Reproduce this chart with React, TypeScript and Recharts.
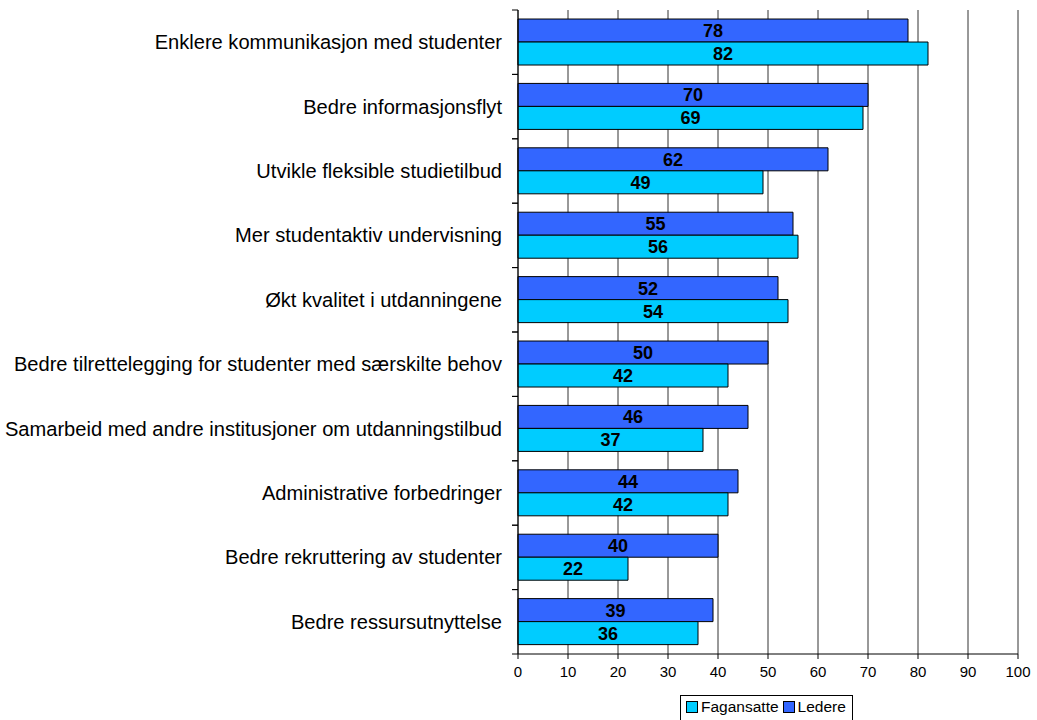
import React from "react";
import { BarChart, Bar, XAxis, YAxis, CartesianGrid, LabelList } from "recharts";

const categories = [
  "Enklere kommunikasjon med studenter",
  "Bedre informasjonsflyt",
  "Utvikle fleksible studietilbud",
  "Mer studentaktiv undervisning",
  "Økt kvalitet i utdanningene",
  "Bedre tilrettelegging for studenter med særskilte behov",
  "Samarbeid med andre institusjoner om utdanningstilbud",
  "Administrative forbedringer",
  "Bedre rekruttering av studenter",
  "Bedre ressursutnyttelse",
];
const ledere = [78, 70, 62, 55, 52, 50, 46, 44, 40, 39];
const fagansatte = [82, 69, 49, 56, 54, 42, 37, 42, 22, 36];
const xTicks = [0, 10, 20, 30, 40, 50, 60, 70, 80, 90, 100];

const data = categories.map((name, i) => ({ name, ledere: ledere[i], fagansatte: fagansatte[i] }));

const W = 1037;
const H = 720;
const MARGIN = { top: 10, right: 19, bottom: 36, left: 0 };
const X_AXIS_H = 30;
const BAND = (H - MARGIN.top - MARGIN.bottom - X_AXIS_H) / categories.length;

const FONT = "'Liberation Sans', Arial, sans-serif";

function CategoryTick(props: any) {
  const { x, y, payload } = props;
  const axisX = x + 16;
  return (
    <g>
      <line x1={axisX - 6} x2={axisX} y1={y - BAND / 2} y2={y - BAND / 2} stroke="#000" />
      <line x1={axisX - 6} x2={axisX} y1={y + BAND / 2} y2={y + BAND / 2} stroke="#000" />
      <text x={x} y={y} textAnchor="end" dominantBaseline="central" fontSize={20.1} fill="#000" fontFamily={FONT}>
        {payload.value}
      </text>
    </g>
  );
}

function LegendBox() {
  const item = (color: string, label: string) => (
    <span style={{ display: "inline-flex", alignItems: "center", marginRight: 4 }}>
      <span style={{ display: "inline-block", width: 10, height: 10, background: color, border: "1px solid #000", marginRight: 3 }} />
      {label}
    </span>
  );
  return (
    <div
      style={{
        position: "absolute", left: 680, top: 695, width: 173, height: 30,
        border: "1px solid #000", fontFamily: FONT, fontSize: 15.5, color: "#000",
        display: "flex", alignItems: "flex-start", paddingTop: 2, paddingLeft: 5, boxSizing: "border-box",
        background: "#fff",
      }}
    >
      {item("#00CCFF", "Fagansatte")}
      {item("#3366FF", "Ledere")}
    </div>
  );
}

export default function App() {
  return (
    <div style={{ position: "absolute", left: 0, top: 0, width: W, height: H, background: "#fff", overflow: "hidden" }}>
      <BarChart
        width={W}
        height={H}
        data={data}
        layout="vertical"
        margin={MARGIN}
        barCategoryGap="14%"
        barGap={0}
      >
        <CartesianGrid horizontal={false} stroke="#333" />
        <XAxis
          type="number"
          domain={[0, 100]}
          ticks={xTicks}
          interval={0}
          height={X_AXIS_H}
          axisLine={{ stroke: "#000" }}
          tickLine={{ stroke: "#000" }}
          tickSize={5}
          tickMargin={7}
          tick={{ fontSize: 15, fill: "#000", fontFamily: FONT }}
        />
        <YAxis
          type="category"
          dataKey="name"
          width={518}
          axisLine={{ stroke: "#000" }}
          tickLine={false}
          tickSize={8}
          tickMargin={8}
          interval={0}
          tick={<CategoryTick />}
        />
        <Bar dataKey="ledere" name="Ledere" fill="#3366FF" stroke="#000" strokeWidth={1} isAnimationActive={false}>
          <LabelList dataKey="ledere" position="center" fill="#000" fontSize={18} fontWeight="bold" fontFamily={FONT} />
        </Bar>
        <Bar dataKey="fagansatte" name="Fagansatte" fill="#00CCFF" stroke="#000" strokeWidth={1} isAnimationActive={false}>
          <LabelList dataKey="fagansatte" position="center" fill="#000" fontSize={18} fontWeight="bold" fontFamily={FONT} />
        </Bar>
      </BarChart>
      <LegendBox />
    </div>
  );
}
